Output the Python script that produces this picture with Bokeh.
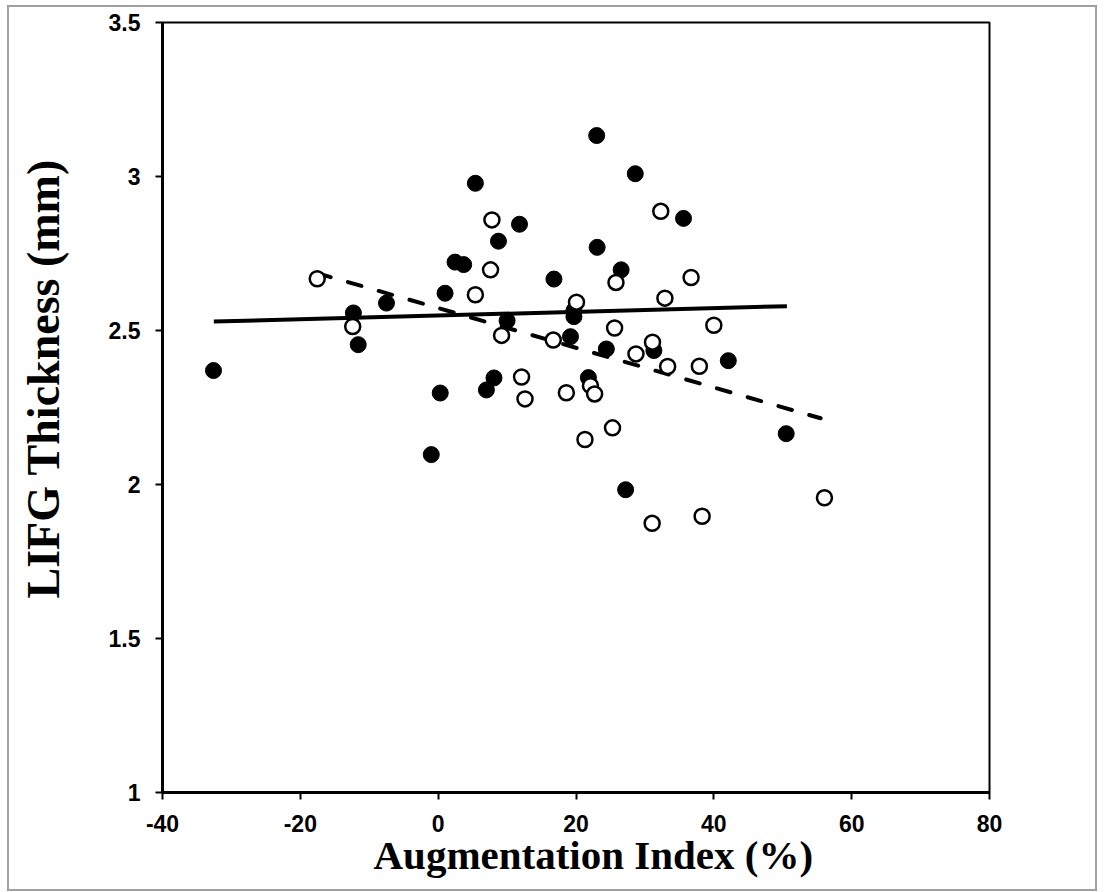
from bokeh.plotting import figure
from bokeh.models import Range1d, FixedTicker, Title
from bokeh.embed import file_html
from bokeh.resources import INLINE

# Group 1 (filled circles, solid trend line)
filled_x = [-32.6, -12.3, -11.6, -7.5, -1.0, 0.3, 1.0, 2.45, 3.7, 5.4,
            7.0, 8.1, 8.75, 10.0, 11.8, 16.8, 19.2, 19.7, 19.7, 21.8,
            23.0, 23.07, 24.4, 26.55, 27.2, 28.6, 31.3, 35.6, 42.1, 50.5]
filled_y = [2.370, 2.557, 2.454, 2.589, 2.097, 2.297, 2.621, 2.722, 2.714, 2.978,
            2.307, 2.346, 2.790, 2.532, 2.845, 2.667, 2.480, 2.565, 2.545, 2.347,
            3.133, 2.770, 2.440, 2.697, 1.983, 3.009, 2.435, 2.864, 2.402, 2.165]

# Group 2 (open circles, dashed trend line)
open_x = [-17.55, -12.4, 5.4, 7.6, 7.8, 9.2, 12.1, 12.6, 16.7, 18.6,
          20.07, 21.3, 22.1, 22.7, 25.3, 25.6, 25.8, 28.7, 31.1, 31.05,
          32.3, 32.9, 33.3, 36.7, 37.9, 38.3, 40.0, 56.05]
open_y = [2.668, 2.513, 2.616, 2.697, 2.859, 2.484, 2.349, 2.278, 2.469, 2.298,
          2.592, 2.146, 2.321, 2.294, 2.184, 2.508, 2.656, 2.424, 2.462, 1.874,
          2.887, 2.605, 2.383, 2.672, 2.384, 1.897, 2.517, 1.957]

# Trend lines (end points)
solid_x = [-32.55, 50.6]
solid_y = [2.529, 2.579]
dashed_x = [-17.55, 55.5]
dashed_y = [2.686, 2.215]

x_ticks = [-40, -20, 0, 20, 40, 60, 80]
x_tick_labels = ["-40", "-20", "0", "20", "40", "60", "80"]
y_ticks = [1, 1.5, 2, 2.5, 3, 3.5]
y_tick_labels = ["1", "1.5", "2", "2.5", "3", "3.5"]
x_title = "Augmentation Index (%)"
y_title = "LIFG Thickness (mm)"

p = figure(width=1090, height=886, output_backend="svg", toolbar_location=None,
           x_range=Range1d(-40, 80), y_range=Range1d(1, 3.5),
           min_border_left=153, min_border_right=110,
           min_border_top=15, min_border_bottom=101,
           background_fill_color="white", border_fill_color="white")
p.styles = {"margin-left": "7px", "margin-top": "5px",
            "border": "2px solid #a0a0a0", "box-sizing": "border-box"}

p.grid.visible = False
p.outline_line_color = "black"
p.outline_line_width = 2

for axes in (p.xaxis, p.yaxis):
    axes.axis_line_width = 3
    axes.axis_line_color = "black"
    axes.major_tick_line_width = 2
    axes.major_tick_line_color = "black"
    axes.major_tick_out = 7
    axes.major_tick_in = 0
    axes.minor_tick_line_color = None
    axes.major_label_text_font = "Liberation Sans"
    axes.major_label_text_font_style = "bold"
    axes.major_label_text_font_size = "23px"
    axes.major_label_text_color = "black"

p.xaxis.ticker = FixedTicker(ticks=x_ticks)
p.yaxis.ticker = FixedTicker(ticks=y_ticks)
p.xaxis.major_label_overrides = {t: l for t, l in zip(x_ticks, x_tick_labels)}
p.yaxis.major_label_overrides = {t: l for t, l in zip(y_ticks, y_tick_labels)}
p.xaxis.major_label_standoff = 15
p.yaxis.major_label_standoff = 15

# y title: axis label, nudged upwards (as in the original) with leading no-break spaces
p.yaxis.axis_label = "\u00a0" * 5 + y_title
p.yaxis.axis_label_standoff = 37
p.yaxis.axis_label_text_font = "Liberation Serif"
p.yaxis.axis_label_text_font_style = "bold"
p.yaxis.axis_label_text_font_size = "46px"
p.yaxis.axis_label_text_color = "black"

# x title: offset to the right like in the original
p.add_layout(Title(text=x_title, align="left", offset=211, standoff=-10,
                   text_font="Liberation Serif", text_font_style="bold",
                   text_font_size="41px", text_color="black"), "below")

p.line(solid_x, solid_y, line_color="black", line_width=4)
p.line(dashed_x, dashed_y, line_color="black", line_width=4,
       line_dash="14 18", line_cap="round")

p.scatter(filled_x, filled_y, size=16, fill_color="black", line_color="black")
p.scatter(open_x, open_y, size=15, fill_color="white", line_color="black", line_width=2.5)

open("out.html", "w").write(file_html(p, INLINE))
